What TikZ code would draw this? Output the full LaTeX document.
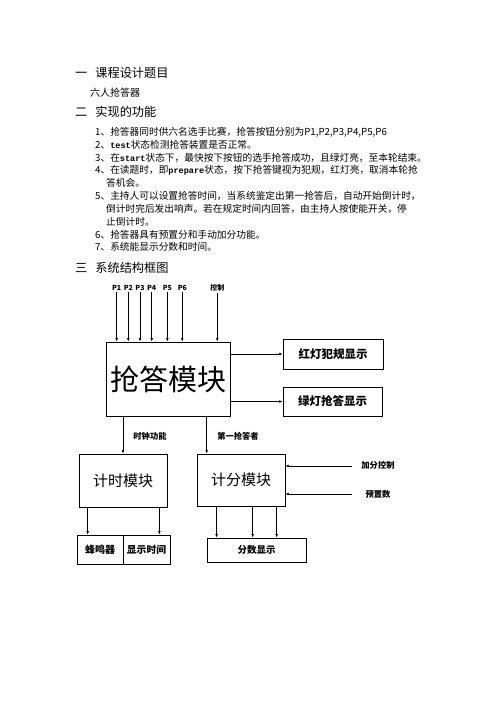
\documentclass[tikz,border=0pt]{standalone}
\usepackage{fontspec}
\setmainfont{Noto Sans CJK SC}
\setmonofont[Scale=0.88]{Liberation Mono}
\usepackage{tikz}
\usetikzlibrary{arrows.meta}

\tikzset{
	arr/.style={-{Latex[length=3.5pt,width=2.6pt]}, line width=0.6pt},
	box/.style={draw, line width=0.7pt, inner sep=0pt},
	head/.style={anchor=west, inner sep=0pt, font=\fontsize{12.2}{14}\selectfont},
	txt/.style={anchor=west, inner sep=0pt, font=\fontsize{9.7}{12}\selectfont},
	plab/.style={inner sep=1pt, font=\bfseries\fontsize{7}{8}\selectfont},
	slab/.style={inner sep=1pt, font=\bfseries\fontsize{8.3}{10}\selectfont}
}

\begin{document}
\begin{tikzpicture}[x=1pt,y=-1pt]
		\useasboundingbox (0,0) rectangle (496,702);
		
		% text part
		\node[head] (h1) at (75,73) {一\hspace{8pt}课程设计题目};
		\node[txt, font=\fontsize{10}{12}\selectfont] (title) at (90,93) {六人抢答器};
		\node[head] (h2) at (75,112) {二\hspace{8pt}实现的功能};
		
		\node[txt] (l1) at (95,132) {1、抢答器同时供六名选手比赛，抢答按钮分别为P1,P2,P3,P4,P5,P6};
		\node[txt] (l2) at (95,145) {2、\texttt{\bfseries test}状态检测抢答装置是否正常。};
		\node[txt] (l3) at (95,157.5) {3、在\texttt{\bfseries start}状态下，最快按下按钮的选手抢答成功，且绿灯亮，至本轮结束。};
		\node[txt] (l4) at (95,170.5) {4、在读题时，即\texttt{\bfseries prepare}状态，按下抢答键视为犯规，红灯亮，取消本轮抢};
		\node[txt] (l4b) at (106,183) {答机会。};
		\node[txt] (l5) at (95,196) {5、主持人可以设置抢答时间，当系统鉴定出第一抢答后，自动开始倒计时，};
		\node[txt] (l5b) at (106,209) {倒计时完后发出响声。若在规定时间内回答，由主持人按使能开关，停};
		\node[txt] (l5c) at (106,222) {止倒计时。};
		\node[txt] (l6) at (95,234.5) {6、抢答器具有预置分和手动加分功能。};
		\node[txt] (l7) at (95,247) {7、系统能显示分数和时间。};
		
		\node[head] (h3) at (75,268) {三\hspace{8pt}系统结构框图};
		
		% boxes
		\node[box, minimum width=124pt, minimum height=74pt, font=\fontsize{29}{32}\selectfont] (qd) at (168,379) {抢答模块};
		\node[box, minimum width=100pt, minimum height=30pt, font=\bfseries\fontsize{11.5}{13}\selectfont] (red) at (333,354) {红灯犯规显示};
		\node[box, minimum width=99pt, minimum height=29pt, font=\bfseries\fontsize{11.5}{13}\selectfont] (green) at (332.5,401.5) {绿灯抢答显示};
		\node[box, minimum width=88pt, minimum height=53pt, font=\fontsize{15}{17}\selectfont] (timer) at (123,480.5) {计时模块};
		\node[box, minimum width=88pt, minimum height=52pt, font=\fontsize{15}{17}\selectfont] (score) at (241,480) {计分模块};
		\node[box, minimum width=46pt, minimum height=29pt, font=\bfseries\fontsize{10}{12}\selectfont] (buzz) at (100,549.5) {蜂鸣器};
		\node[box, minimum width=47pt, minimum height=29pt, font=\bfseries\fontsize{9.8}{12}\selectfont] (showt) at (146.5,549.5) {显示时间};
		\node[box, minimum width=99pt, minimum height=24pt, font=\bfseries\fontsize{9.5}{11}\selectfont] (shows) at (256.5,550) {分数显示};
		
		% inputs on top
		\node[plab] (p1) at (116.7,288) {P1};
		\node[plab] (p2) at (128.3,288) {P2};
		\node[plab] (p3) at (140,288) {P3};
		\node[plab] (p4) at (151.7,288) {P4};
		\node[plab] (p5) at (167.3,288) {P5};
		\node[plab] (p6) at (182.3,288) {P6};
		\node[plab] (ctrl) at (217.3,288) {控制};
		
		\draw[arr] (p1.south) -- (p1.south |- qd.north);
		\draw[arr] (p2.south) -- (p2.south |- qd.north);
		\draw[arr] (p3.south) -- (p3.south |- qd.north);
		\draw[arr] (p4.south) -- (p4.south |- qd.north);
		\draw[arr] (p5.south) -- (p5.south |- qd.north);
		\draw[arr] (p6.south) -- (p6.south |- qd.north);
		\draw[arr] (ctrl.south) -- (ctrl.south |- qd.north);
		
		% outputs of the main box
		\draw[arr] (qd.east |- red.west) -- (red.west);
		\draw[arr] (qd.east |- green.west) -- (green.west);
		
		\node[slab] (clk) at (150,436) {时钟功能};
		\node[slab] (first) at (238,436) {第一抢答者};
		\draw[arr] (timer.north |- qd.south) -- (timer.north);
		\draw[arr] ([xshift=10pt]score.north west |- qd.south) -- ([xshift=10pt]score.north west);
		
		% inputs of the score box
		\node[slab] (jia) at (378,465) {加分控制};
		\node[slab] (yu) at (378,494) {预置数};
		\coordinate (jiaend) at (352,466);
		\coordinate (yuend) at (352,494);
		\draw[arr] (jiaend) -- (jiaend -| score.east);
		\draw[arr] (yuend) -- (yuend -| score.east);
		
		% outputs of the timer and score boxes
		\draw[arr] ([xshift=9pt]timer.south west) -- ([xshift=9pt]timer.south west |- buzz.north);
		\draw[arr] ([xshift=-8pt]timer.south east) -- ([xshift=-8pt]timer.south east |- showt.north);
		
		\draw[arr] ([xshift=20pt]score.south west) -- ([xshift=20pt]score.south west |- shows.north);
		\draw[arr] ([xshift=56pt]score.south west) -- ([xshift=56pt]score.south west |- shows.north);
		\draw[arr] ([xshift=80pt]score.south west) -- ([xshift=80pt]score.south west |- shows.north);
		
\end{tikzpicture}
\end{document}
